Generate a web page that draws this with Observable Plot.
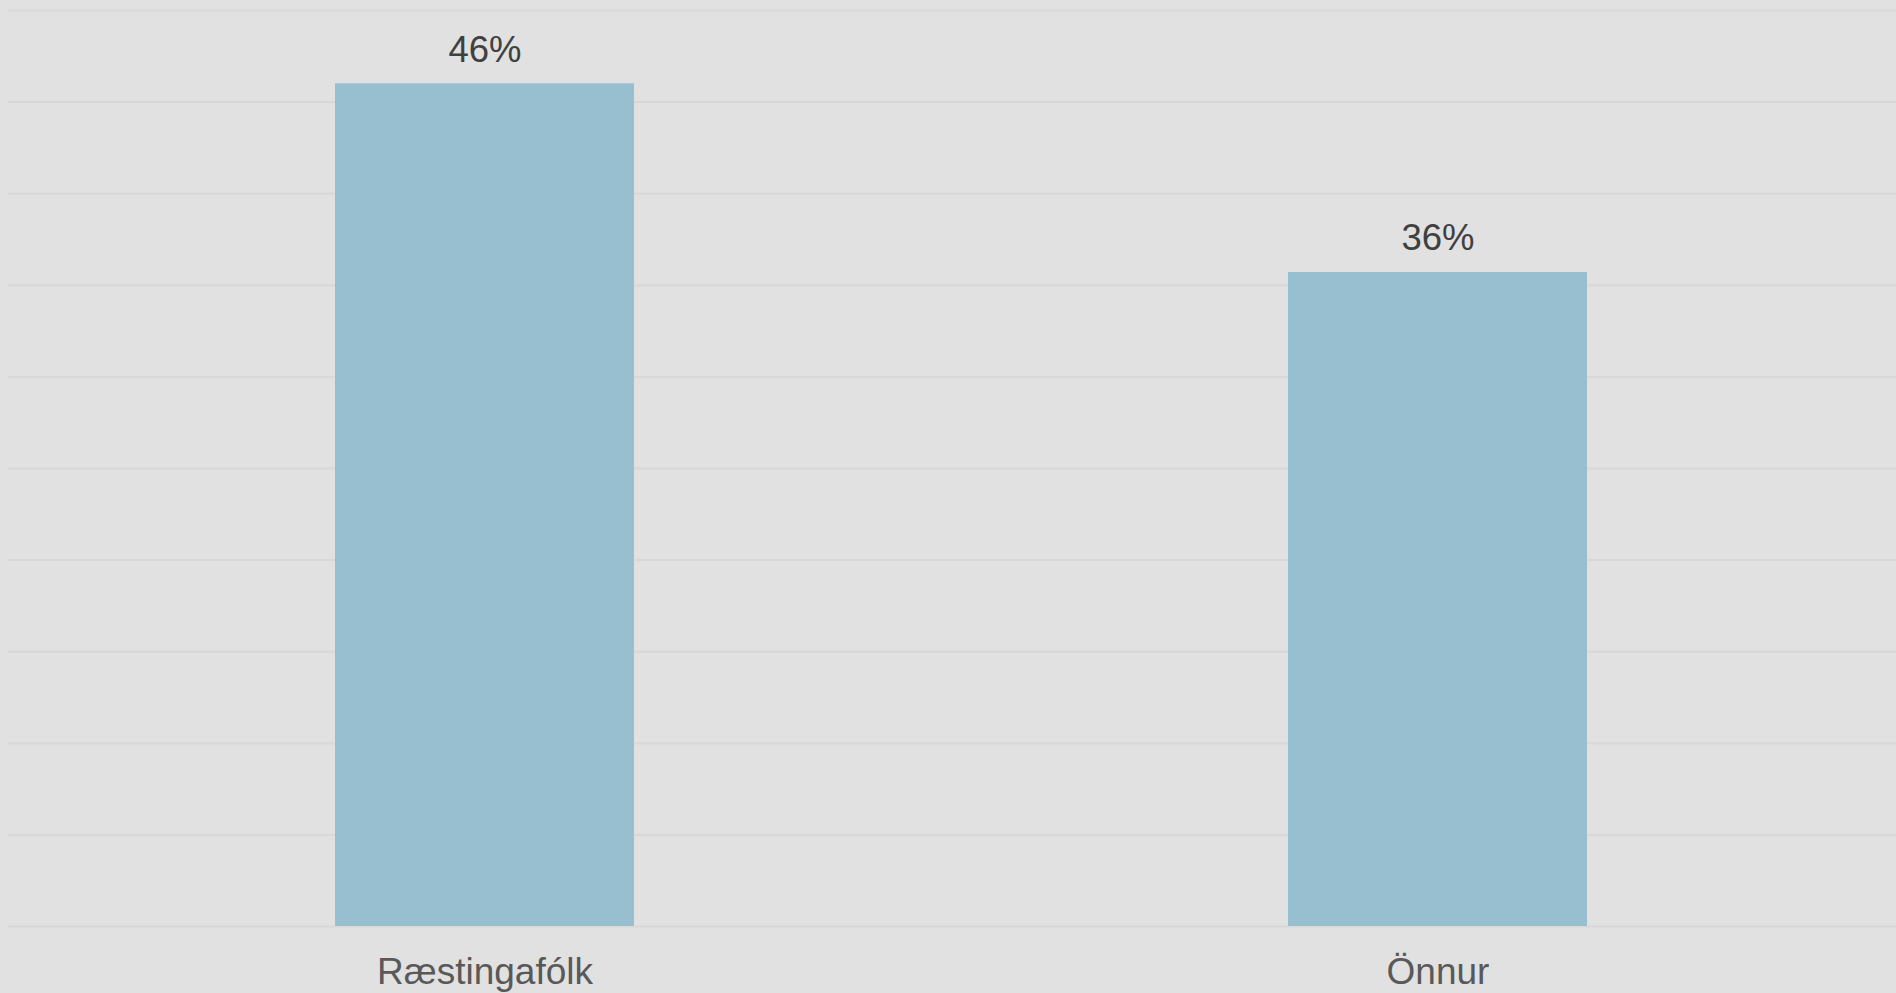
<!DOCTYPE html>
<html>
<head>
<meta charset="utf-8">
<script src="https://cdn.jsdelivr.net/npm/d3@7"></script>
<script src="https://cdn.jsdelivr.net/npm/@observablehq/plot@0.6"></script>
<style>
  html, body { margin: 0; padding: 0; background: #e1e1e1; overflow: hidden; }
  #chart svg { display: block; }
</style>
</head>
<body>
<div id="chart"></div>
<script>
const categories = ["Ræstingafólk", "Önnur"];
const values = [46, 35.7];
const gridTicks = [0, 5, 10, 15, 20, 25, 30, 35, 40, 45, 50];

const data = categories.map((c, i) => ({category: c, value: values[i]}));

const chart = Plot.plot({
  width: 1896,
  height: 993,
  marginLeft: 8,
  marginRight: 0,
  marginTop: 10,
  marginBottom: 67,
  style: {background: "#e1e1e1", fontFamily: "'Liberation Sans', Arial, sans-serif"},
  x: {domain: categories, paddingInner: 0.6866, paddingOuter: 0.333, align: 0.514, label: null},
  y: {domain: [0, 50], label: null, axis: null},
  marks: [
    Plot.ruleY(gridTicks, {stroke: "#d8d8d8", strokeWidth: 2}),
    Plot.barY(data, {x: "category", y: "value", fill: "#97bfd0"}),
    Plot.text(data, {x: "category", y: "value", text: d => Math.round(d.value) + "%", lineAnchor: "bottom", dy: -22, fontSize: 36.5, fill: "#404040"}),
    Plot.axisX({tickSize: 0, tickPadding: 31, fontSize: 37, color: "#595959", label: null})
  ]
});
document.getElementById("chart").appendChild(chart);
</script>
</body>
</html>
